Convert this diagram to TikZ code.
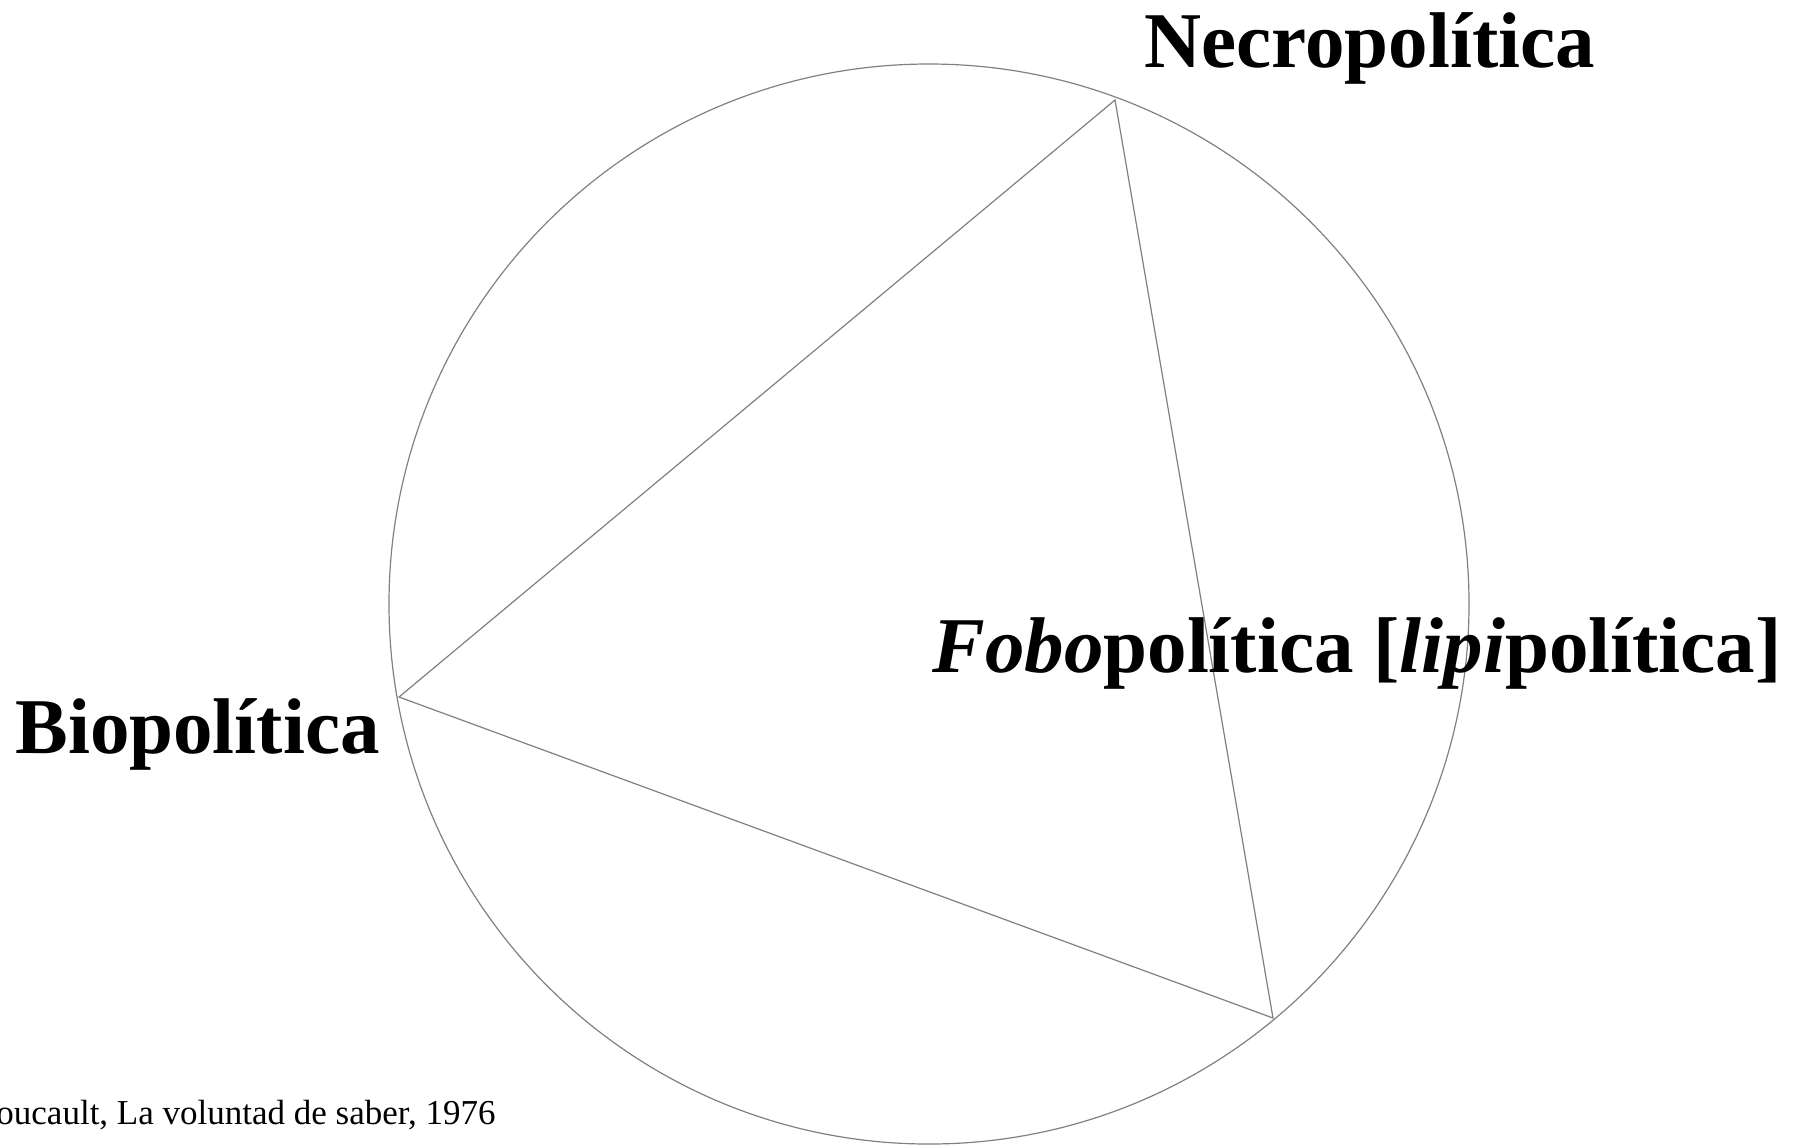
\documentclass[tikz,border=0pt]{standalone}
\usepackage{fontspec}
\setmainfont{Liberation Serif}
\begin{document}
\begin{tikzpicture}[x=0.5pt,y=-0.5pt,
  edge/.style={draw=black!50, line width=0.6pt},
  bigtext/.style={inner sep=0pt, font=\fontsize{39.5}{47}\selectfont\bfseries},
  captext/.style={inner sep=0pt, font=\fontsize{17.5}{21}\selectfont}]
\useasboundingbox (0,0) rectangle (1802,1147);
\clip (0,0) rectangle (1802,1147);
\coordinate (c) at (929,604);
\coordinate (vn) at (1115,100);
\coordinate (vb) at (399,697);
\coordinate (vs) at (1273,1018);
\draw[edge] (c) circle[radius=540];
\draw[edge] (vn) -- (vb) -- (vs) -- cycle;
\node[bigtext, anchor=base west] (necro) at (1144,67) {Necropolítica};
\node[bigtext, anchor=base west] (bio) at (15,753) {Biopolítica};
\node[bigtext, anchor=base west] (fobo) at (932,672) {\textit{Fobo}política [\textit{lipi}política]};
\node[captext, anchor=base east] (cita) at (496,1124) {Foucault, La voluntad de saber, 1976};
\end{tikzpicture}
\end{document}
